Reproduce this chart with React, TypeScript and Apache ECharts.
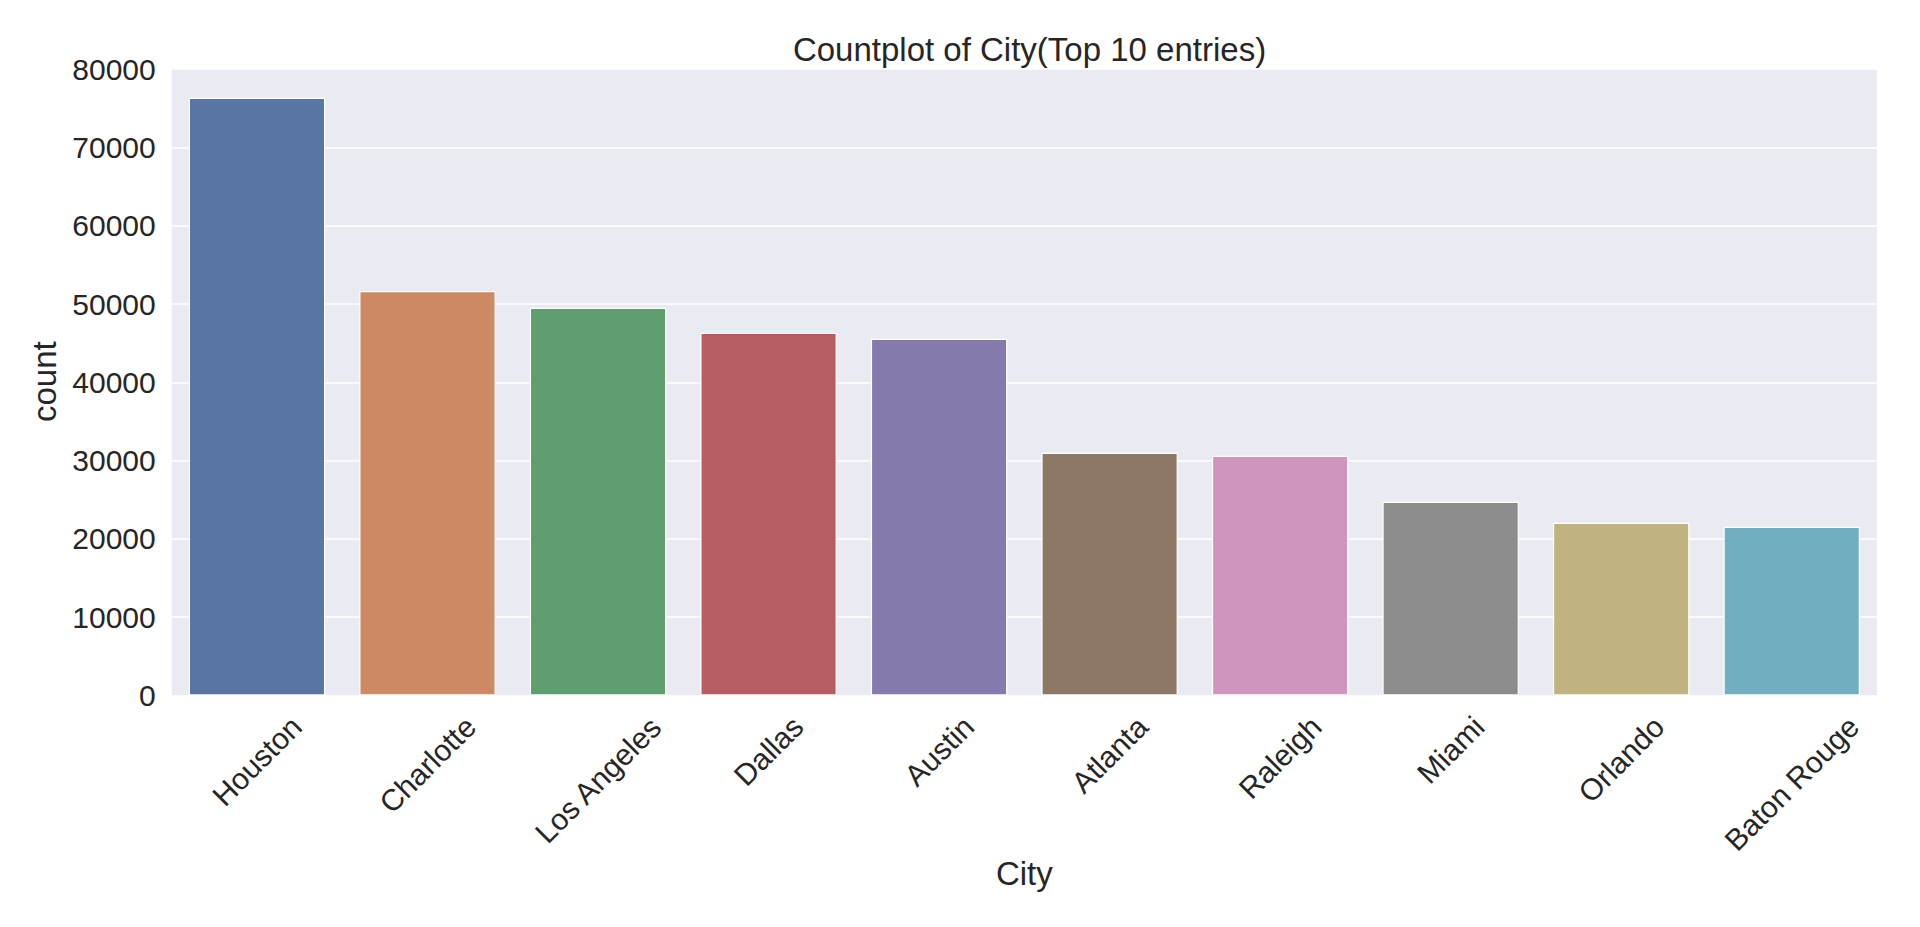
import React, { useEffect, useRef } from "react";
import * as echarts from "echarts";

const cities = ["Houston", "Charlotte", "Los Angeles", "Dallas", "Austin", "Atlanta", "Raleigh", "Miami", "Orlando", "Baton Rouge"];
const counts = [76350, 51660, 49530, 46330, 45570, 31010, 30610, 24750, 22070, 21560];
const barColors = ["#5975a4", "#cc8963", "#5f9e6e", "#b55d60", "#857aab", "#8d7866", "#d095bf", "#8c8c8c", "#c1b37f", "#71aec0"];
const yTickStep = 10000;
const yMax = 80170;
const titleText = "Countplot of City(Top 10 entries)";
const xAxisName = "City";
const yAxisName = "count";

const FONT = "'Liberation Sans', Arial, Helvetica, sans-serif";
const TEXT_COLOR = "#262626";
const TICK_FS = 30;
const LABEL_FS = 33;
const BOX_H = 34;
const LABEL_PAD = 14;

function measure(text: string): number {
  const c = document.createElement("canvas");
  const ctx = c.getContext("2d");
  if (!ctx) return text.length * TICK_FS * 0.55;
  ctx.font = `${TICK_FS}px 'Liberation Sans', Arial, sans-serif`;
  return ctx.measureText(text).width;
}

export default function App() {
  const ref = useRef<HTMLDivElement>(null);
  useEffect(() => {
    if (!ref.current) return;
    const chart = echarts.init(ref.current, undefined, { renderer: "svg" });
    const widths = cities.map((c) => measure(c));
    chart.setOption({
      animation: false,
      backgroundColor: "#ffffff",
      textStyle: { fontFamily: FONT },
      title: {
        text: titleText,
        left: 1024.5,
        top: 28,
        textAlign: "center",
        textStyle: { fontFamily: FONT, fontSize: LABEL_FS, fontWeight: "normal", color: TEXT_COLOR },
      },
      grid: {
        left: 171.7,
        right: 43,
        top: 67.8,
        bottom: 231.5,
        show: true,
        backgroundColor: "#eaeaf2",
        borderWidth: 0,
        containLabel: false,
        outerBoundsMode: "none",
      },
      xAxis: {
        type: "category",
        data: cities,
        name: xAxisName,
        nameLocation: "middle",
        nameGap: 161,
        nameTextStyle: { fontFamily: FONT, fontSize: LABEL_FS, color: TEXT_COLOR },
        axisLine: { show: false },
        axisTick: { show: false },
        splitLine: { show: false },
        axisLabel: { show: false },
      },
      yAxis: {
        type: "value",
        min: 0,
        max: yMax,
        interval: yTickStep,
        name: yAxisName,
        nameLocation: "middle",
        nameRotate: 90,
        nameGap: 105,
        nameTextStyle: { fontFamily: FONT, fontSize: LABEL_FS, color: TEXT_COLOR },
        axisLine: { show: false },
        axisTick: { show: false },
        splitLine: { show: true, lineStyle: { color: "#ffffff", width: 1.5 } },
        axisLabel: {
          margin: 16,
          fontFamily: FONT,
          fontSize: TICK_FS,
          color: TEXT_COLOR,
          showMaxLabel: false,
          formatter: (v: number) => (v % yTickStep === 0 ? String(v) : ""),
        },
      },
      series: [
        {
          type: "bar",
          data: counts.map((v, i) => ({ value: v, itemStyle: { color: barColors[i] } })),
          barCategoryGap: "20%",
          itemStyle: { borderColor: "#ffffff", borderWidth: 1.2 },
        },
        {
          type: "custom",
          clip: false,
          silent: true,
          z: 10,
          data: cities.map((c, i) => [i, 0]),
          encode: { x: 0, y: 1 },
          renderItem: (params: any, api: any) => {
            const idx = api.value(0);
            const p = api.coord([idx, 0]);
            const L = widths[idx];
            const off = LABEL_PAD + (L + BOX_H) / (2 * Math.SQRT2);
            return {
              type: "text",
              x: p[0],
              y: p[1] + off,
              rotation: Math.PI / 4,
              style: {
                text: cities[idx],
                align: "center",
                verticalAlign: "middle",
                fontFamily: FONT,
                fontSize: TICK_FS,
                fill: TEXT_COLOR,
              },
            };
          },
        },
      ],
    });
    return () => chart.dispose();
  }, []);
  return <div ref={ref} style={{ position: "fixed", left: 0, top: 0, width: 1920, height: 927 }} />;
}
